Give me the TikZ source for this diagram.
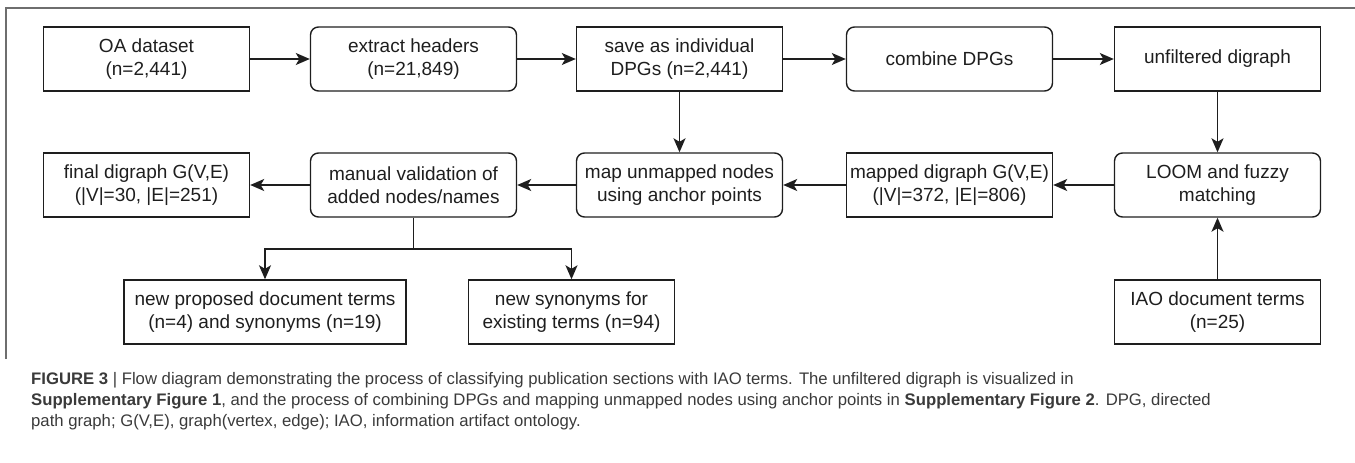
\documentclass[tikz,border=0pt]{standalone}
\usepackage{fontspec}
\setmainfont{Liberation Sans}
\usepackage{tikz}
\usetikzlibrary{arrows.meta}
\definecolor{lineclr}{HTML}{1E1E1E}
\definecolor{capclr}{HTML}{3A3A3A}
\definecolor{frameclr}{HTML}{6E6E6E}

\begin{document}
\begin{tikzpicture}[x=1pt, y=-1pt,
    box/.style={draw=lineclr, line width=1.4pt, minimum width=206pt, minimum height=64pt,
        inner sep=2pt, align=center, text=lineclr, font=\fontsize{19}{22.8}\selectfont},
    rbox/.style={box, rounded corners=8pt},
    arr/.style={draw=lineclr, line width=1.4pt, -{Stealth[length=14pt, width=12pt, inset=3.5pt]}},
    capline/.style={anchor=west, inner sep=0pt, text=capclr, font=\fontsize{16.7}{20}\selectfont}]
    \useasboundingbox (0,0) rectangle (1355,463);

    % Frame
    \draw[frameclr, line width=1.2pt] (6,359) -- (6,8) -- (1355,8);

    % First row
    \node[box]  (oa)   at (146.5,59)  {OA dataset\\(n=2,441)};
    \node[rbox] (hdr)  at (413.5,59)  {extract headers\\(n=21,849)};
    \node[box]  (dpgs) at (679.5,59)  {save as individual\\DPGs (n=2,441)};
    \node[rbox] (comb) at (949.5,59)  {combine DPGs};
    \node[box]  (unf)  at (1217.5,59) {unfiltered digraph};

    % Second row
    \node[box]  (final)  at (146.5,185)  {final digraph G(V,E)\\(|V|=30, |E|=251)};
    \node[rbox] (manual) at (413.5,185)  {manual validation of\\added nodes/names};
    \node[rbox] (mapun)  at (679.5,185)  {map unmapped nodes\\using anchor points};
    \node[box]  (mapped) at (949.5,185)  {mapped digraph G(V,E)\\(|V|=372, |E|=806)};
    \node[rbox] (loom)   at (1217.5,185) {LOOM and fuzzy\\matching};

    % Third row
    \node[box, minimum width=282pt] (newprop) at (265,312) {new proposed document terms\\(n=4) and synonyms (n=19)};
    \node[box] (newsyn) at (571.5,312)  {new synonyms for\\existing terms (n=94)};
    \node[box] (iao)    at (1217.5,312) {IAO document terms\\(n=25)};

    % Arrows
    \draw[arr] (oa) -- (hdr);
    \draw[arr] (hdr) -- (dpgs);
    \draw[arr] (dpgs) -- (comb);
    \draw[arr] (comb) -- (unf);
    \draw[arr] (unf) -- (loom);
    \draw[arr] (dpgs) -- (mapun);
    \draw[arr] (iao) -- (loom);
    \draw[arr] (loom) -- (mapped);
    \draw[arr] (mapped) -- (mapun);
    \draw[arr] (mapun) -- (manual);
    \draw[arr] (manual) -- (final);

    % Split below validation
    \coordinate (split) at (413.5,249);
    \draw[lineclr, line width=1.4pt] (manual.south) -- (split);
    \draw[arr] (split) -| (newprop.north);
    \draw[arr] (split) -| (newsyn.north);

    % Caption
    \node[capline] (cap1) at (31,380) {\textbf{FIGURE 3} | Flow diagram demonstrating the process of classifying publication sections with IAO terms. The unfiltered digraph is visualized in};
    \node[capline] (cap2) at (31,401) {\textbf{Supplementary Figure 1}, and the process of combining DPGs and mapping unmapped nodes using anchor points in \textbf{Supplementary Figure 2}. DPG, directed};
    \node[capline] (cap3) at (31,422) {path graph; G(V,E), graph(vertex, edge); IAO, information artifact ontology.};
\end{tikzpicture}
\end{document}
